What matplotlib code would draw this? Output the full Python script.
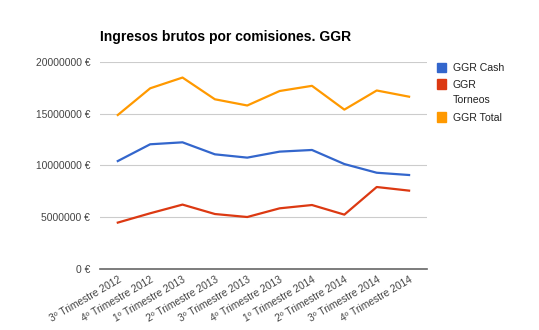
import matplotlib.pyplot as plt
from matplotlib.patches import Rectangle
from matplotlib.ticker import FuncFormatter

plt.rcParams['font.family'] = ['Liberation Sans', 'DejaVu Sans']

trimestres = ["3º Trimestre 2012", "4º Trimestre 2012", "1º Trimestre 2013",
              "2º Trimestre 2013", "3º Trimestre 2013", "4º Trimestre 2013",
              "1º Trimestre 2014", "2º Trimestre 2014", "3º Trimestre 2014",
              "4º Trimestre 2014"]
ggr_cash = [10430000, 12050000, 12240000, 11080000, 10760000, 11340000,
            11500000, 10140000, 9300000, 9080000]
ggr_torneos = [4480000, 5380000, 6220000, 5310000, 5020000, 5860000,
               6180000, 5250000, 7920000, 7570000]
ggr_total = [14880000, 17460000, 18500000, 16400000, 15800000, 17200000,
             17700000, 15400000, 17250000, 16650000]

series = [("GGR Cash", ggr_cash, "#3366cc"),
          ("GGR\nTorneos", ggr_torneos, "#dc3912"),
          ("GGR Total", ggr_total, "#ff9900")]

fig = plt.figure(figsize=(5.39, 3.30), dpi=100)
ax = fig.add_axes([0.1855, 0.185, 0.6065, 0.627])

x = list(range(len(trimestres)))
for label, vals, color in series:
    ax.plot(x, vals, color=color, linewidth=1.6, solid_joinstyle="round")

ax.set_xlim(-0.55, len(trimestres) - 0.45)
ax.set_ylim(0, 20000000)
ax.set_yticks([0, 5000000, 10000000, 15000000, 20000000])
ax.yaxis.set_major_formatter(FuncFormatter(lambda v, p: f"{int(v)} €"))
ax.grid(axis="y", color="#cccccc", linewidth=0.8)
ax.set_axisbelow(True)
for s in ["top", "right", "left"]:
    ax.spines[s].set_visible(False)
ax.spines["bottom"].set_color("#666666")
ax.spines["bottom"].set_linewidth(1.2)
ax.tick_params(axis="both", length=0, labelsize=7.4, labelcolor="#444444")
ax.tick_params(axis="y", pad=7)
ax.set_xticks(x)
ax.set_xticklabels(trimestres, rotation=30, ha="right", rotation_mode="anchor")
ax.tick_params(axis="x", pad=4)

fig.text(0.186, 0.887, "Ingresos brutos por comisiones. GGR", fontsize=10,
         fontweight="bold", color="#000000", va="center")

# leyenda
leg_y = [0.795, 0.745, 0.645]
for (label, vals, color), yy in zip(series, leg_y):
    fig.patches.append(Rectangle((0.811, yy - 0.014), 0.017, 0.029,
                                 transform=fig.transFigure, color=color))
    fig.text(0.840, yy + 0.014, label, fontsize=7.6, color="#222222", va="top",
             linespacing=1.7)

fig.savefig("out.png", dpi=100)
